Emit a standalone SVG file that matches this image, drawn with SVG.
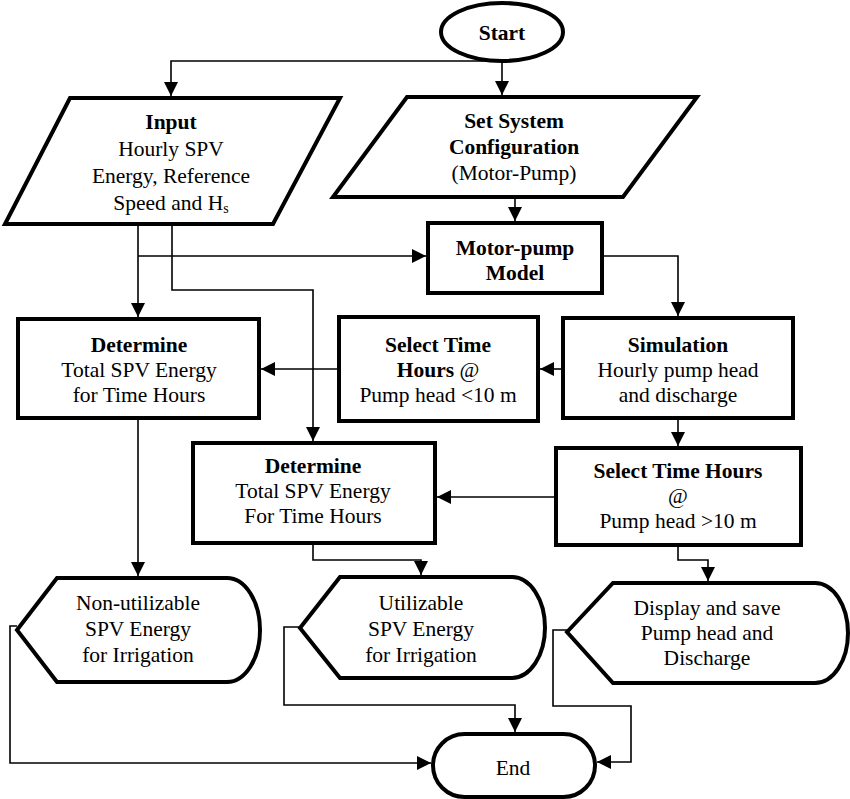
<svg xmlns="http://www.w3.org/2000/svg" width="850" height="799" viewBox="0 0 850 799">
<style>
.shape{fill:#fff;stroke:#000;stroke-width:4;stroke-linejoin:miter}
.t{font-family:"Liberation Serif","Times New Roman",serif;font-size:21.5px;fill:#000;text-anchor:middle}
.b{font-weight:bold}
.conn{fill:none;stroke:#000;stroke-width:1.6}
</style>
<defs>
<marker id="arr" markerUnits="userSpaceOnUse" markerWidth="14" markerHeight="14" viewBox="0 0 12 12" refX="12" refY="6" orient="auto">
<path d="M0,0 L12,6 L0,12 Z" fill="#000"/>
</marker>
</defs>
<rect width="850" height="799" fill="#fff"/>
<g id="connectors">
<path class="conn" d="M490,61 H171 V96" marker-end="url(#arr)"/>
<path class="conn" d="M502,61 V95" marker-end="url(#arr)"/>
<path class="conn" d="M515,197 V221" marker-end="url(#arr)"/>
<path class="conn" d="M138,256 H426" marker-end="url(#arr)"/>
<path class="conn" d="M138,224 V317" marker-end="url(#arr)"/>
<path class="conn" d="M172,224 V290 H313 V441" marker-end="url(#arr)"/>
<path class="conn" d="M602,256 H678 V316" marker-end="url(#arr)"/>
<path class="conn" d="M563,369 H540" marker-end="url(#arr)"/>
<path class="conn" d="M338,369 H261" marker-end="url(#arr)"/>
<path class="conn" d="M678,418 V446" marker-end="url(#arr)"/>
<path class="conn" d="M556,497 H437" marker-end="url(#arr)"/>
<path class="conn" d="M138,418 V576" marker-end="url(#arr)"/>
<path class="conn" d="M313,543 V560 H421 V575" marker-end="url(#arr)"/>
<path class="conn" d="M678,545 V560 H708 V581" marker-end="url(#arr)"/>
<path class="conn" d="M17,626 H10 V763 H431" marker-end="url(#arr)"/>
<path class="conn" d="M300,627 H284 V705 H515 V732" marker-end="url(#arr)"/>
<path class="conn" d="M567,630 H553 V706 H631 V762 H597" marker-end="url(#arr)"/>
</g>
<g id="start">
<ellipse class="shape" cx="502" cy="32" rx="61" ry="29"/>
<text class="t b" x="502" y="40">Start</text>
</g>
<g id="input">
<polygon class="shape" points="70,98 340,98 273,224 5,224"/>
<text class="t b" x="171" y="129">Input</text>
<text class="t" x="171" y="156">Hourly SPV</text>
<text class="t" x="171" y="183">Energy, Reference</text>
<text class="t" x="171" y="210">Speed and H<tspan font-size="14" dy="3">s</tspan></text>
</g>
<g id="setconfig">
<polygon class="shape" points="407,97 697,97 623,197 333,197"/>
<text class="t b" x="514" y="128">Set System</text>
<text class="t b" x="514" y="154">Configuration</text>
<text class="t" x="514" y="180">(Motor-Pump)</text>
</g>
<g id="motorpump">
<rect class="shape" x="428" y="223" width="174" height="70"/>
<text class="t b" x="515" y="255">Motor-pump</text>
<text class="t b" x="515" y="280">Model</text>
</g>
<g id="determine1">
<rect class="shape" x="18" y="319" width="241" height="99"/>
<text class="t b" x="139" y="352">Determine</text>
<text class="t" x="139" y="377">Total SPV Energy</text>
<text class="t" x="139" y="402">for Time Hours</text>
</g>
<g id="select10less">
<rect class="shape" x="339" y="317" width="199" height="104"/>
<text class="t b" x="438" y="352">Select Time</text>
<text class="t" x="438" y="377"><tspan font-weight="bold">Hours</tspan> @</text>
<text class="t" x="438" y="402">Pump head &lt;10 m</text>
</g>
<g id="simulation">
<rect class="shape" x="563" y="318" width="230" height="100"/>
<text class="t b" x="678" y="352">Simulation</text>
<text class="t" x="678" y="377">Hourly pump head</text>
<text class="t" x="678" y="402">and discharge</text>
</g>
<g id="determine2">
<rect class="shape" x="193" y="443" width="242" height="100"/>
<text class="t b" x="313" y="473">Determine</text>
<text class="t" x="313" y="498">Total SPV Energy</text>
<text class="t" x="313" y="523">For Time Hours</text>
</g>
<g id="select10more">
<rect class="shape" x="556" y="448" width="245" height="97"/>
<text class="t b" x="678" y="478">Select Time Hours</text>
<text class="t" x="678" y="503">@</text>
<text class="t" x="678" y="528">Pump head &gt;10 m</text>
</g>
<g id="nonutilizable">
<path class="shape" d="M17,630 L57,578 L227,578 A33,52 0 0 1 227,682 L57,682 Z"/>
<text class="t" x="138" y="610">Non-utilizable</text>
<text class="t" x="138" y="636">SPV Energy</text>
<text class="t" x="138" y="662">for Irrigation</text>
</g>
<g id="utilizable">
<path class="shape" d="M300,628 L340,577 L512,577 A33,50.5 0 0 1 512,678 L340,678 Z"/>
<text class="t" x="421" y="610">Utilizable</text>
<text class="t" x="421" y="636">SPV Energy</text>
<text class="t" x="421" y="662">for Irrigation</text>
</g>
<g id="display">
<path class="shape" d="M567,632 L613,583 L815,583 A33,50 0 0 1 815,683 L613,683 Z"/>
<text class="t" x="707" y="615">Display and save</text>
<text class="t" x="707" y="640">Pump head and</text>
<text class="t" x="707" y="665">Discharge</text>
</g>
<g id="end">
<rect class="shape" x="433" y="734" width="162" height="63" rx="31.5" ry="31.5"/>
<text class="t" x="513" y="775">End</text>
</g>
</svg>
